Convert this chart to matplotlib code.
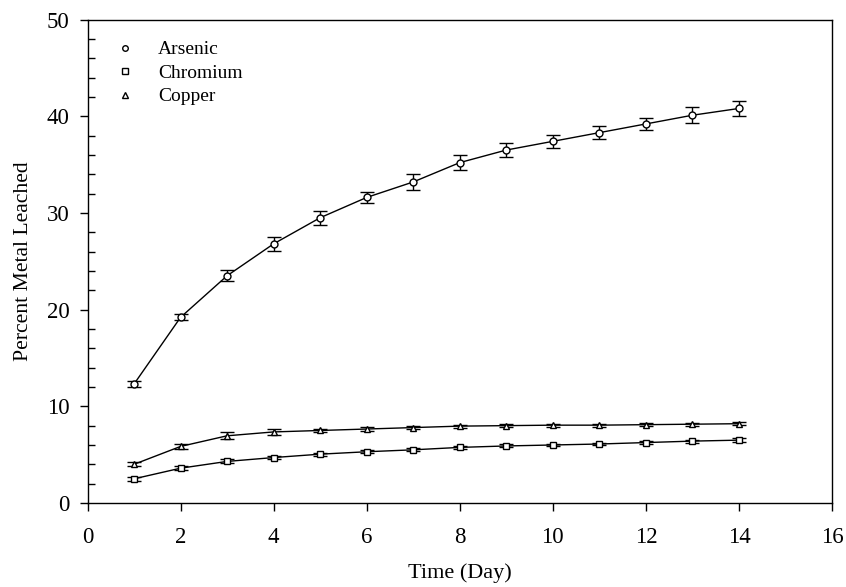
import matplotlib
matplotlib.use("Agg")
import matplotlib.pyplot as plt
from matplotlib.lines import Line2D

plt.rcParams['font.family'] = ['Liberation Serif', 'DejaVu Serif']

days = list(range(1, 15))
arsenic = [12.3, 19.2, 23.5, 26.8, 29.5, 31.6, 33.2, 35.2, 36.5, 37.4, 38.3, 39.2, 40.1, 40.8]
arsenic_err = [0.3, 0.3, 0.55, 0.75, 0.7, 0.55, 0.8, 0.75, 0.7, 0.65, 0.7, 0.64, 0.83, 0.8]
chromium = [2.5, 3.6, 4.3, 4.7, 5.05, 5.3, 5.5, 5.75, 5.9, 6.0, 6.1, 6.25, 6.4, 6.5]
chromium_err = [0.2, 0.2, 0.2, 0.15, 0.15, 0.15, 0.15, 0.15, 0.15, 0.15, 0.15, 0.15, 0.15, 0.2]
copper = [4.0, 5.85, 6.95, 7.35, 7.5, 7.65, 7.8, 7.95, 8.0, 8.05, 8.05, 8.1, 8.15, 8.2]
copper_err = [0.2, 0.3, 0.35, 0.3, 0.2, 0.2, 0.15, 0.15, 0.15, 0.15, 0.15, 0.15, 0.15, 0.15]

fig = plt.figure(figsize=(8.46, 5.87), dpi=100)
ax = fig.add_axes([87.5 / 846, 1 - 503 / 587, (832 - 87.5) / 846, (503 - 19.5) / 587])

series = [
    ('Arsenic', arsenic, arsenic_err, 'o'),
    ('Chromium', chromium, chromium_err, 's'),
    ('Copper', copper, copper_err, '^'),
]
for name, vals, err, mk in series:
    ax.errorbar(days, vals, yerr=err, color='black', lw=1.0, marker=mk,
                ms=5 if mk != 's' else 4.5, mfc='white', mec='black', mew=1.0,
                capsize=5, capthick=1.0, elinewidth=1.0, label=name)

ax.set_xlim(0, 16)
ax.set_ylim(0, 50)
ax.set_xticks(range(0, 17, 2))
ax.set_yticks(range(0, 51, 10))
ax.set_yticks(range(0, 51, 2), minor=True)
ax.tick_params(axis='both', which='major', direction='out', length=6, width=1,
               labelsize=16.5)
ax.tick_params(axis='y', which='major', pad=7)
ax.tick_params(axis='x', which='major', pad=11)
ax.tick_params(axis='y', which='minor', direction='in', length=5, width=1)
for s in ax.spines.values():
    s.set_linewidth(1.0)

ax.set_xlabel('Time (Day)', fontsize=16, labelpad=11)
ax.set_ylabel('Percent Metal Leached', fontsize=15.6, labelpad=10)

# legend: markers only, no lines/error bars
handles = [Line2D([], [], ls='none', marker=mk, ms=4, mfc='white', mec='black', mew=1.0)
           for _, _, _, mk in series]
ax.legend(handles, [s[0] for s in series], loc='upper left', frameon=False,
          fontsize=14, handlelength=1.0, handletextpad=1.2, labelspacing=0.3,
          borderpad=0.4, bbox_to_anchor=(0.0136, 0.992))

fig.savefig('out.png', dpi=100)
